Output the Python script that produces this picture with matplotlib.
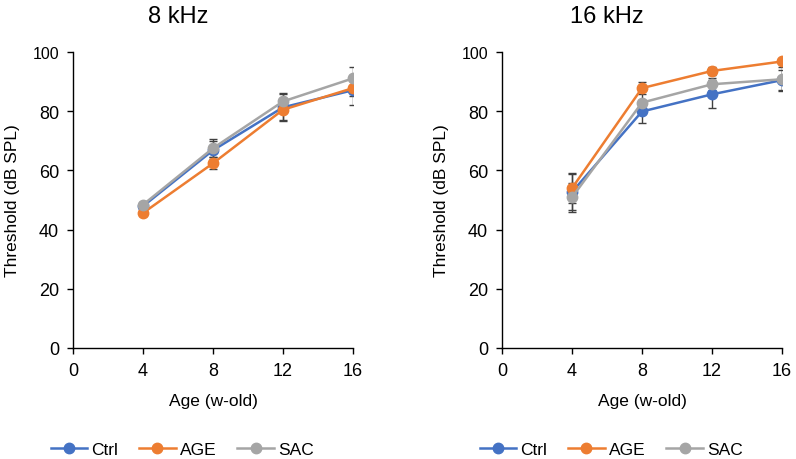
import matplotlib
matplotlib.use("Agg")
import matplotlib.pyplot as plt

plt.rcParams['font.family'] = ['Liberation Sans', 'DejaVu Sans']

ages = [4, 8, 12, 16]
groups = ["Ctrl", "AGE", "SAC"]
colors = ["#4472C4", "#ED7D31", "#A5A5A5"]

# 8 kHz thresholds (dB SPL) and error bars
ctrl_8k = [47.9, 66.8, 81.3, 87.1]
age_8k = [45.6, 62.4, 80.5, 87.8]
sac_8k = [48.4, 67.5, 83.3, 91.1]
ctrl_8k_err = [1.2, 3.0, 4.5, 5.0]
age_8k_err = [1.0, 2.0, 3.5, 2.5]
sac_8k_err = [1.0, 3.0, 3.0, 3.8]

# 16 kHz thresholds (dB SPL) and error bars
ctrl_16k = [52.7, 79.9, 85.7, 90.5]
age_16k = [54.0, 87.8, 93.6, 96.8]
sac_16k = [50.9, 82.9, 89.1, 90.8]
ctrl_16k_err = [6.0, 4.0, 4.7, 3.5]
age_16k_err = [5.0, 2.0, 1.5, 1.0]
sac_16k_err = [4.8, 4.0, 2.0, 4.0]

panels = [
    ("8 kHz", [ctrl_8k, age_8k, sac_8k], [ctrl_8k_err, age_8k_err, sac_8k_err]),
    ("16 kHz", [ctrl_16k, age_16k, sac_16k], [ctrl_16k_err, age_16k_err, sac_16k_err]),
]

W, H = 796, 460
fig = plt.figure(figsize=(W / 100, H / 100), dpi=100)
lefts = [73, 502]

for left, (title, series, errs) in zip(lefts, panels):
    ax = fig.add_axes([left / W, (H - 349) / H, 280 / W, 296 / H])
    for vals, err in zip(series, errs):
        ax.errorbar(ages, vals, yerr=err, fmt='none', ecolor='#404040',
                    elinewidth=1, capsize=3, capthick=1, zorder=2)
    for name, vals, c in zip(groups, series, colors):
        ax.plot(ages, vals, color=c, lw=1.8, marker='o', ms=7.5, label=name, zorder=3)
    ax.set_xlim(0, 16)
    ax.set_ylim(0, 100)
    ax.set_xticks([0, 4, 8, 12, 16])
    ax.set_yticks([0, 20, 40, 60, 80, 100])
    ax.tick_params(labelsize=13, width=1.0, length=4, direction='out', pad=6)
    ax.get_yticklabels()[-1].set_fontsize(11.5)
    for s in ['top', 'right']:
        ax.spines[s].set_visible(False)
    for s in ['left', 'bottom']:
        ax.spines[s].set_linewidth(1.0)
    ax.set_xlabel("Age (w-old)", fontsize=12.5, labelpad=10)
    ax.set_ylabel("Threshold (dB SPL)", fontsize=12.5, labelpad=9)
    fig.text((left + 0.375 * 280) / W, (H - 23) / H, title, fontsize=17,
             ha='center', va='baseline')
    ax.legend(loc='center', bbox_to_anchor=((left + 0.39 * 280) / W, 0.02),
              bbox_transform=fig.transFigure, ncol=3, frameon=False,
              fontsize=12.5, handlelength=2.1, handletextpad=0.25,
              columnspacing=1.2, borderpad=0)

fig.savefig("out.png", dpi=100)
